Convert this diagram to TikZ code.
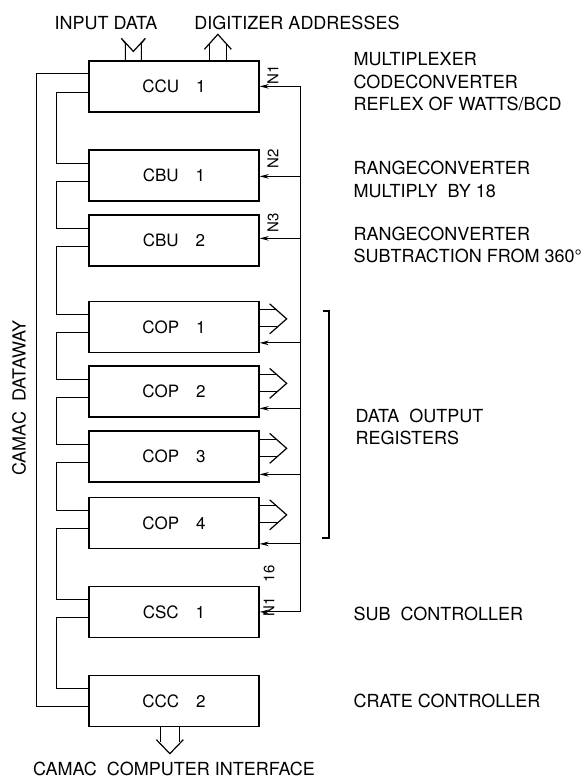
\documentclass[tikz,border=0pt]{standalone}
\usepackage{fontspec}
\setmainfont{TeX Gyre Heros}
\usetikzlibrary{arrows.meta}

\tikzset{
  modulo/.style={draw, line width=1.3pt, minimum width=170pt, minimum height=51pt,
    inner sep=0pt, font=\fontsize{17}{19}\selectfont},
  rotulo/.style={align=left, anchor=west, inner sep=0pt},
  nlab/.style={rotate=90, inner sep=0pt, font=\fontsize{15}{17}\selectfont},
  punta/.style={{Stealth[length=9pt,width=4.5pt]}-},
}

\begin{document}
\begin{tikzpicture}[x=1pt,y=1pt,line width=1.2pt,font=\fontsize{18}{22.5}\selectfont]
        \useasboundingbox (0,0) rectangle (585,-780);

        % Modulos del crate
        \node[modulo] (ccu)  at (174,-86.5) {CCU\quad 1};
        \node[modulo] (cbu1) at (174,-175.5) {CBU\quad 1};
        \node[modulo] (cbu2) at (174,-240.5) {CBU\quad 2};
        \node[modulo] (cop1) at (174,-327) {COP\quad 1};
        \node[modulo] (cop2) at (174,-391.5) {COP\quad 2};
        \node[modulo] (cop3) at (174,-456.5) {COP\quad 3};
        \node[modulo] (cop4) at (174,-523) {COP\quad 4};
        \node[modulo] (csc)  at (174,-612) {CSC\quad 1};
        \node[modulo] (ccc)  at (174,-701) {CCC\quad 2};

        % Dataway (izquierda)
        \draw ([yshift=-13]ccu.north west) -- ++(-52,0) |- ([yshift=-32]ccc.north west);
        \foreach \a/\b in {ccu/cbu1,cbu1/cbu2,cbu2/cop1,cop1/cop2,cop2/cop3,cop3/cop4,cop4/csc,csc/ccc}
          \draw ([yshift=-32]\a.north west) -- ++(-32,0) |- ([yshift=-14]\b.north west);
        \node[rotate=90] (t-dw) at (19,-398) {CAMAC\ \ DATAWAY};

        % Lineas N (derecha)
        \draw ([shift={(41,-26)}]ccu.north east) -- ([shift={(41,-26)}]csc.north east);
        \foreach \m/\d in {ccu/26,cbu1/27,cbu2/24,cop1/42,cop2/43,cop3/44,cop4/47,csc/26}
          \draw[punta] ([yshift=-\d]\m.north east) -- ++(41,0);
        \node[nlab] (n1)  at (273,-75) {N1};
        \node[nlab] (n2)  at (273,-159) {N2};
        \node[nlab] (n3)  at (273,-223) {N3};
        \node[nlab] (n16) at (269,-591) {N1\quad 16};

        % Salidas de los registros
        \foreach \i in {1,...,4} {
          \draw ([yshift=-9]cop\i.north east) -- ++(17,0);
          \draw ([yshift=-26]cop\i.north east) -- ++(17,0);
          \draw ([shift={(10,-3)}]cop\i.north east) -- ++(17,-15) -- ++(-17,-15);
        }
        \draw (323,-311) -- (329,-311) -- (329,-538) -- (322,-538);

        % Entradas y salidas arriba / abajo
        \draw ([xshift=37]ccu.north west) -- ++(0,17) -- ++(-4,5) -- ++(12,-13)
              -- ++(12,13) -- ++(-4,-5) -- ++(0,-17);
        \draw ([xshift=121]ccu.north west) -- ++(0,16);
        \draw ([xshift=138]ccu.north west) -- ++(0,16);
        \draw ([shift={(116,11)}]ccu.north west) -- ++(13.5,15) -- ++(13.5,-15);
        \draw ([xshift=72]ccc.south west) -- ++(0,-15);
        \draw ([xshift=91]ccc.south west) -- ++(0,-15);
        \draw ([shift={(68,-12.5)}]ccc.south west) -- ++(13.5,-14) -- ++(13.5,14);

        \node (t-in)  at (106,-23) {INPUT DATA};
        \node (t-dig) at (297,-23) {DIGITIZER ADDRESSES};
        \node (t-if)  at (174,-769) {CAMAC\ \ COMPUTER INTERFACE};

        % Textos de la derecha
        \node[rotulo] (t-ccu)  at (353,-82) {MULTIPLEXER\\CODECONVERTER\\REFLEX OF WATTS/BCD};
        \node[rotulo] (t-cbu1) at (353,-179.5) {RANGECONVERTER\\MULTIPLY\ \ BY 18};
        \node[rotulo] (t-cbu2) at (353,-245) {RANGECONVERTER\\SUBTRACTION FROM 360°};
        \node[rotulo] (t-cop)  at (355,-427) {DATA\ \ OUTPUT\\REGISTERS};
        \node[rotulo] (t-csc)  at (353,-614) {SUB\ \ CONTROLLER};
        \node[rotulo] (t-ccc)  at (353,-701) {CRATE CONTROLLER};

\end{tikzpicture}
\end{document}
